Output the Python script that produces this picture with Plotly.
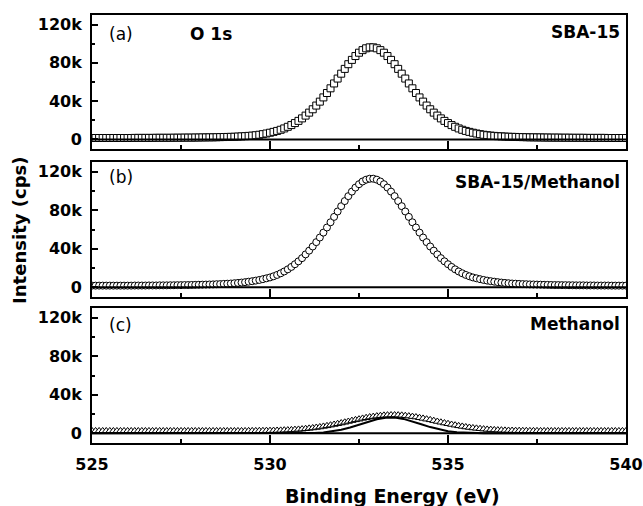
import plotly.graph_objects as go

# ---------------- data ----------------
energy = [
    525.0, 525.1, 525.2, 525.3, 525.4, 525.5, 525.6, 525.7, 525.8, 525.9,
    526.0, 526.1, 526.2, 526.3, 526.4, 526.5, 526.6, 526.7, 526.8, 526.9,
    527.0, 527.1, 527.2, 527.3, 527.4, 527.5, 527.6, 527.7, 527.8, 527.9,
    528.0, 528.1, 528.2, 528.3, 528.4, 528.5, 528.6, 528.7, 528.8, 528.9,
    529.0, 529.1, 529.2, 529.3, 529.4, 529.5, 529.6, 529.7, 529.8, 529.9,
    530.0, 530.1, 530.2, 530.3, 530.4, 530.5, 530.6, 530.7, 530.8, 530.9,
    531.0, 531.1, 531.2, 531.3, 531.4, 531.5, 531.6, 531.7, 531.8, 531.9,
    532.0, 532.1, 532.2, 532.3, 532.4, 532.5, 532.6, 532.7, 532.8, 532.9,
    533.0, 533.1, 533.2, 533.3, 533.4, 533.5, 533.6, 533.7, 533.8, 533.9,
    534.0, 534.1, 534.2, 534.3, 534.4, 534.5, 534.6, 534.7, 534.8, 534.9,
    535.0, 535.1, 535.2, 535.3, 535.4, 535.5, 535.6, 535.7, 535.8, 535.9,
    536.0, 536.1, 536.2, 536.3, 536.4, 536.5, 536.6, 536.7, 536.8, 536.9,
    537.0, 537.1, 537.2, 537.3, 537.4, 537.5, 537.6, 537.7, 537.8, 537.9,
    538.0, 538.1, 538.2, 538.3, 538.4, 538.5, 538.6, 538.7, 538.8, 538.9,
    539.0, 539.1, 539.2, 539.3, 539.4, 539.5, 539.6, 539.7, 539.8, 539.9,
    540.0,
]

# (a) SBA-15
sba15 = [
    1500, 1500, 1500, 1500, 1500, 1500, 1500, 1500, 1500, 1500,
    1500, 1500, 1600, 1600, 1600, 1600, 1600, 1600, 1700, 1700,
    1700, 1700, 1700, 1800, 1800, 1800, 1900, 1900, 1900, 2000,
    2000, 2100, 2100, 2200, 2200, 2300, 2400, 2500, 2600, 2700,
    2800, 3000, 3200, 3400, 3700, 4000, 4400, 4900, 5500, 6200,
    7000, 7900, 8900, 10100, 11500, 13200, 15000, 17100, 19400, 22000,
    24900, 28000, 31500, 35400, 39500, 43900, 48500, 53400, 58500, 63600,
    68700, 73700, 78600, 83100, 87100, 90600, 93300, 95200, 96200,
    96200, 95200, 93300, 90600, 87100, 83100, 78600, 73700, 68700, 63600, 58500,
    53400, 48500, 43900, 39500, 35400, 31500, 28000, 24900, 22000, 19400,
    17100, 15000, 13200, 11500, 10100, 8900, 7900, 7000, 6200, 5500,
    4900, 4400, 4000, 3700, 3400, 3200, 3000, 2800, 2700, 2600,
    2500, 2400, 2300, 2200, 2200, 2100, 2100, 2000, 2000, 1900,
    1900, 1900, 1800, 1800, 1800, 1700, 1700, 1700, 1700, 1600,
    1600, 1600, 1600, 1600, 1600, 1500, 1500, 1500, 1500, 1500,
    1500,
]

# (b) SBA-15/Methanol
sba15_methanol = [
    1800, 1800, 1800, 1800, 1800, 1800, 1800, 1800, 1800, 1800,
    1800, 1800, 1900, 1900, 1900, 1900, 2000, 2000, 2000, 2100,
    2100, 2100, 2200, 2200, 2300, 2300, 2400, 2400, 2500, 2600,
    2700, 2800, 2900, 3000, 3100, 3300, 3400, 3600, 3800, 4000,
    4300, 4600, 5000, 5400, 5900, 6400, 7000, 7700, 8500, 9400,
    10300, 11500, 12900, 14600, 16500, 18700, 21200, 24000, 27000, 30300,
    34200, 38100, 42400, 46900, 51700, 56800, 62100, 67500, 73100, 78700,
    84200, 89500, 94600, 99300, 103500, 107000, 109800, 111700, 112700,
    112700, 111700, 109800, 107000, 103500, 99300, 94600, 89500, 84200, 78700, 73100,
    67500, 62100, 56800, 51700, 46900, 42400, 38100, 34200, 30300, 27000,
    24000, 21200, 18700, 16500, 14600, 12900, 11500, 10300, 9400, 8500,
    7700, 7000, 6400, 5900, 5400, 5000, 4600, 4300, 4000, 3800,
    3600, 3400, 3300, 3100, 3000, 2900, 2800, 2700, 2600, 2500,
    2400, 2400, 2300, 2300, 2200, 2200, 2100, 2100, 2100, 2000,
    2000, 2000, 1900, 1900, 1900, 1900, 1800, 1800, 1800, 1800,
    1800,
]

# (c) Methanol
methanol = [
    2500, 2500, 2500, 2500, 2500, 2500, 2500, 2500, 2500, 2500,
    2500, 2500, 2500, 2500, 2500, 2500, 2500, 2500, 2500, 2500,
    2500, 2500, 2500, 2500, 2500, 2500, 2500, 2500, 2500, 2500,
    2500, 2500, 2500, 2500, 2500, 2500, 2500, 2500, 2500, 2500,
    2500, 2500, 2500, 2500,
    2600, 2600, 2600, 2700, 2700, 2800, 2800, 2900, 3000, 3100,
    3300, 3400, 3600, 3900, 4100, 4400, 4800, 5200, 5600, 6100,
    6600, 7200, 7800, 8500, 9200, 10000, 10700, 11500, 12300, 13200,
    14000, 14700, 15500, 16200, 16900, 17400, 17900, 18300, 18700, 18900,
    19000,
    19000, 18900, 18700, 18300, 17900, 17400, 16900, 16200, 15500, 14700,
    14000, 13200, 12300, 11500, 10700, 10000, 9200, 8500, 7800, 7200,
    6600, 6100, 5600, 5200, 4800, 4400, 4100, 3900, 3600, 3400,
    3300, 3100, 3000, 2900, 2800, 2800, 2700, 2700, 2600, 2600,
    2600,
    2500, 2500, 2500, 2500, 2500, 2500, 2500, 2500, 2500, 2500,
    2500, 2500, 2500, 2500, 2500, 2500, 2500, 2500, 2500, 2500,
    2500, 2500, 2500, 2500, 2500,
]

# fitted peak curves (solid lines)
fit_energy_ab = [525.0, 525.5, 526.0, 526.5, 527.0, 527.5, 528.0, 528.5, 529.0, 529.5,
                 530.0, 530.5, 531.0, 531.5, 532.0, 532.5, 533.0, 533.5, 534.0, 534.5,
                 535.0, 535.5, 536.0, 536.5, 537.0, 537.5, 538.0, 538.5, 539.0, 539.5,
                 540.0]
fit_a = [0, 0, 0, 100, 200, 300, 500, 800, 1300, 2500,
         5500, 11700, 23400, 42400, 67200, 89100, 93700, 77100, 51900, 30000,
         15600, 7400, 3400, 1700, 1000, 600, 400, 200, 100, 0,
         0]
fit_b = [0, 0, 0, 100, 300, 500, 900, 1500, 2500, 4600,
         8500, 16900, 32400, 55000, 82400, 105200, 109900, 92800, 65700, 40600,
         22200, 11100, 5900, 3200, 1800, 1100, 600, 400, 200, 100,
         0]
fit_energy_c = [525.0, 530.25, 530.5, 530.75, 531.0, 531.25, 531.5, 531.75, 532.0, 532.25,
                532.5, 532.75, 533.0, 533.25, 533.5, 533.75, 534.0, 534.25, 534.5, 534.75,
                535.0, 535.25, 535.5, 535.75, 536.0, 536.25, 540.0]
fit_c = [0, 0, 0, 100, 200, 500, 1000, 2000, 3700, 6000,
         8900, 11900, 14600, 16200, 16400, 15000, 12500, 9500, 6500, 4100,
         2300, 1200, 600, 200, 100, 0, 0]

assert len(energy) == len(sba15) == len(sba15_methanol) == len(methanol) == 151
assert len(fit_energy_ab) == len(fit_a) == len(fit_b)
assert len(fit_energy_c) == len(fit_c)

panel_letters = ["(a)", "(b)", "(c)"]
panel_names = ["SBA-15", "SBA-15/Methanol", "Methanol"]
y_tick_values = [0, 40000, 80000, 120000]
y_tick_text = ["0", "40k", "80k", "120k"]

FONT = "DejaVu Sans"
fig = go.Figure()

# (a)
fig.add_trace(go.Scatter(x=fit_energy_ab, y=fit_a, mode="lines", line=dict(color="black", width=2, shape="spline"),
                         xaxis="x", yaxis="y", hoverinfo="skip"))
fig.add_trace(go.Scatter(x=energy, y=sba15, mode="markers",
                         marker=dict(symbol="square", size=7, color="white", line=dict(color="black", width=1)),
                         xaxis="x", yaxis="y"))
# (b)
fig.add_trace(go.Scatter(x=fit_energy_ab, y=fit_b, mode="lines", line=dict(color="black", width=2, shape="spline"),
                         xaxis="x2", yaxis="y2", hoverinfo="skip"))
fig.add_trace(go.Scatter(x=energy, y=sba15_methanol, mode="markers",
                         marker=dict(symbol="circle", size=7, color="white", line=dict(color="black", width=1)),
                         xaxis="x2", yaxis="y2"))
# (c)
fig.add_trace(go.Scatter(x=energy, y=methanol, mode="markers",
                         marker=dict(symbol="triangle-up", size=7, color="white", line=dict(color="black", width=1)),
                         xaxis="x3", yaxis="y3"))
fig.add_trace(go.Scatter(x=fit_energy_c, y=fit_c, mode="lines", line=dict(color="black", width=2),
                         xaxis="x3", yaxis="y3", hoverinfo="skip"))

tickfont = dict(family=FONT, size=16, color="black", weight="bold")


def xax(anchor, labels):
    return dict(range=[525, 540], anchor=anchor, domain=[0, 1], automargin=False,
                showline=True, linecolor="black", linewidth=2, mirror=True,
                ticks="inside", ticklen=8, tickwidth=2, tickcolor="black",
                tick0=525, dtick=5, showticklabels=labels, tickfont=tickfont,
                ticklabelstandoff=6,
                minor=dict(ticks="inside", ticklen=4, tickwidth=1.5, tickcolor="black", dtick=2.5),
                showgrid=False, zeroline=False)


def yax(anchor, dom):
    return dict(range=[-10000, 130000], anchor=anchor, domain=dom, automargin=False,
                showline=True, linecolor="black", linewidth=2, mirror=True,
                ticks="inside", ticklen=6, tickwidth=2, tickcolor="black",
                tickmode="array", tickvals=y_tick_values, ticktext=y_tick_text,
                tickfont=tickfont, ticklabelstandoff=5,
                minor=dict(ticks="inside", ticklen=3, tickwidth=1.5, tickcolor="black",
                           tickmode="linear", tick0=0, dtick=20000),
                showgrid=False, zeroline=False)


shapes = []
for xr, yr in [("x domain", "y"), ("x2 domain", "y2"), ("x3 domain", "y3")]:
    shapes.append(dict(type="line", xref=xr, yref=yr, x0=0, x1=1, y0=0, y1=0,
                       line=dict(color="black", width=2), layer="above"))

annotations = []
label_y = [0.9556, 0.6215, 0.2757]
name_y = [0.9603, 0.6098, 0.2780]
for i in range(3):
    annotations.append(dict(text=panel_letters[i], xref="paper", yref="paper", x=0.028, y=label_y[i],
                            xanchor="left", yanchor="middle", showarrow=False,
                            font=dict(family=FONT, size=17, color="black")))
    annotations.append(dict(text=panel_names[i], xref="paper", yref="paper", x=0.9925, y=name_y[i],
                            xanchor="right", yanchor="middle", showarrow=False,
                            font=dict(family=FONT, size=17, color="black", weight="bold")))
annotations.append(dict(text="O 1s", xref="paper", yref="paper", x=0.18, y=0.9556,
                        xanchor="left", yanchor="middle", showarrow=False,
                        font=dict(family=FONT, size=17, color="black", weight="bold")))
annotations.append(dict(text="Intensity (cps)", xref="paper", yref="paper", x=-0.135, y=0.4977,
                        xanchor="center", yanchor="middle", textangle=-90, showarrow=False,
                        font=dict(family=FONT, size=18, color="black", weight="bold")))
annotations.append(dict(text="Binding Energy (eV)", xref="paper", yref="paper", x=0.5618, y=-0.1238,
                        xanchor="center", yanchor="middle", showarrow=False,
                        font=dict(family=FONT, size=19, color="black", weight="bold")))

fig.update_layout(
    width=643, height=506,
    margin=dict(l=92, r=17, t=15, b=63, autoexpand=False),
    plot_bgcolor="white", paper_bgcolor="white",
    showlegend=False,
    font=dict(family=FONT, color="black"),
    xaxis=xax("y", False), yaxis=yax("x", [0.6869, 1.0]),
    xaxis2=xax("y2", False), yaxis2=yax("x2", [0.3411, 0.6565]),
    xaxis3=xax("y3", True), yaxis3=yax("x3", [0.0, 0.3154]),
    shapes=shapes, annotations=annotations,
)

fig.write_html("out.html")
